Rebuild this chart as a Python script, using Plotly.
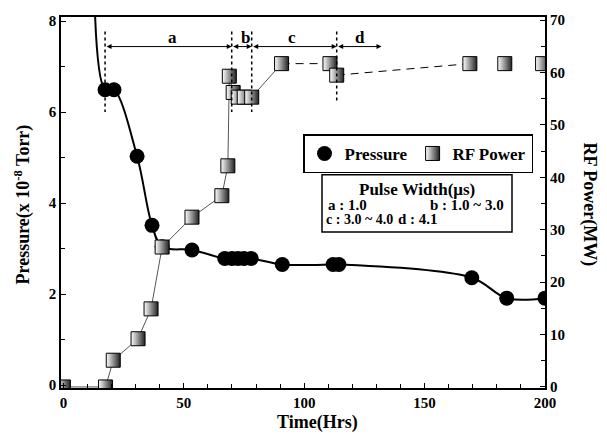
import plotly.graph_objects as go

# ---------------- data ----------------
# Pressure (x 1e-8 Torr) vs time (Hrs); first point only extends the curve above the frame
time_p = [12.9, 17.3, 21.0, 30.6, 36.8, 41.0, 53.4, 67.0, 70.0, 72.5, 75.0, 78.0,
          90.9, 112.0, 114.4, 169.6, 184.1, 200.0]
pressure = [8.5, 6.49, 6.49, 5.03, 3.51, 3.04, 2.97, 2.78, 2.78, 2.78, 2.78, 2.78,
            2.65, 2.65, 2.65, 2.36, 1.91, 1.91]

# RF power (MW) vs time (Hrs)
time_rf = [0, 17.5, 20.7, 31.0, 36.4, 41.0, 53.4, 65.8, 68.3, 68.9, 70.5, 72.6, 75.1,
           78.2, 90.6, 110.7, 113.5, 168.8, 183.3, 199.0]
rf_power = [0, 0, 5.1, 9.2, 14.9, 26.7, 32.4, 36.5, 42.2, 59.3, 56.2, 55.3, 55.3,
            55.3, 61.7, 61.7, 59.5, 61.7, 61.7, 61.7]

# pulse-width region boundaries (Hrs) and labels
bounds = [17.3, 69.9, 78.2, 113.5, 132.1]
region_labels = ["a", "b", "c", "d"]
pulse_lines = ["a : 1.0", "b : 1.0 ~ 3.0", "c : 3.0 ~ 4.0", "d : 4.1"]

FONT = "Liberation Serif"

fig = go.Figure()

# pressure line (spline)
fig.add_trace(go.Scatter(x=time_p, y=pressure, mode="lines",
                         line=dict(color="black", width=2, shape="spline", smoothing=1.0),
                         showlegend=False, hoverinfo="skip"))
# RF solid line
n_solid = 15
fig.add_trace(go.Scatter(x=time_rf[:n_solid], y=rf_power[:n_solid], mode="lines", yaxis="y2",
                         line=dict(color="#555555", width=1), showlegend=False, hoverinfo="skip"))
# RF dashed segments
for a, b in [(14, 16), (16, 18)]:
    fig.add_trace(go.Scatter(x=time_rf[a:b], y=rf_power[a:b], mode="lines", yaxis="y2",
                             line=dict(color="black", width=1, dash="8px,6px"),
                             showlegend=False, hoverinfo="skip"))

# pressure markers
fig.add_trace(go.Scatter(x=time_p[1:], y=pressure[1:], mode="markers", name="Pressure",
                         marker=dict(symbol="circle", size=15, color="black")))
# RF markers
fig.add_trace(go.Scatter(x=time_rf, y=rf_power, mode="markers", name="RF Power", yaxis="y2",
                         marker=dict(symbol="square", size=14, color="white",
                                     gradient=dict(type="horizontal", color="#222222"),
                                     line=dict(color="black", width=1))))

shapes = []
annotations = []
# vertical dotted boundary lines
for i, xb in enumerate(bounds[:4]):
    shapes.append(dict(type="line", xref="x", yref="y", x0=xb, x1=xb, y0=7.77,
                       y1=6.23 if i == 3 else 6.0,
                       line=dict(color="black", width=1.5, dash="dot")))
# double-headed arrows + labels
for i in range(4):
    x0, x1 = bounds[i], bounds[i + 1]
    annotations.append(dict(x=x1, y=7.44, ax=x0, ay=7.44, xref="x", yref="y",
                            axref="x", ayref="y", text="", showarrow=True,
                            arrowhead=2, startarrowhead=2, arrowside="end+start",
                            arrowsize=1, arrowwidth=1, arrowcolor="black",
                            standoff=0, startstandoff=0))
label_x = [45.2, 75.5, 94.9, 123.1]
for lx, lab in zip(label_x, region_labels):
    annotations.append(dict(x=lx, y=7.64, xref="x", yref="y", text=lab, showarrow=False,
                            xanchor="center", yanchor="middle",
                            font=dict(family=FONT, size=17, color="black", weight="bold")))


def px2paper_x(px):
    return (px - 61) / 484.0


def px2paper_y(py):
    return (388 - py) / 376.0


# pulse width box
shapes.append(dict(type="rect", xref="paper", yref="paper",
                   x0=px2paper_x(322), x1=px2paper_x(512),
                   y0=px2paper_y(230), y1=px2paper_y(172),
                   line=dict(color="black", width=1.5), fillcolor="white", layer="above"))
annotations.append(dict(x=px2paper_x(417), y=px2paper_y(187), xref="paper", yref="paper",
                        text="Pulse Width(\u03bcs)", showarrow=False,
                        xanchor="center", yanchor="middle",
                        font=dict(family=FONT, size=17, color="black", weight="bold")))
pf = dict(family=FONT, size=15, color="black", weight="bold")
pf_small = dict(family=FONT, size=14, color="black", weight="bold")
pos = [(326, 203), (428, 203), (324, 217), (396, 217)]
fonts = [pf, pf, pf_small, pf]
for (px, py), t, f in zip(pos, pulse_lines, fonts):
    annotations.append(dict(x=px2paper_x(px), y=px2paper_y(py), xref="paper", yref="paper",
                            text=t, showarrow=False, xanchor="left", yanchor="middle", font=f))

# axis titles
tf = dict(family=FONT, size=18, color="black", weight="bold")
annotations.append(dict(x=px2paper_x(317), y=px2paper_y(423), xref="paper", yref="paper",
                        text="Time(Hrs)", showarrow=False, xanchor="center", yanchor="middle",
                        font=tf))
annotations.append(dict(x=px2paper_x(23), y=px2paper_y(202), xref="paper", yref="paper",
                        text="Pressure(x 10<sup>-8</sup> Torr)", showarrow=False,
                        xanchor="center", yanchor="middle", textangle=-90, font=tf))
annotations.append(dict(x=px2paper_x(590), y=px2paper_y(202), xref="paper", yref="paper",
                        text="RF Power(MW)", showarrow=False, xanchor="center",
                        yanchor="middle", textangle=90, font=tf))

tickf = dict(family=FONT, size=15, color="black", weight="bold")
axis_common = dict(showgrid=False, zeroline=False, showline=True, linecolor="black",
                   ticks="inside", tickcolor="black", ticklen=5, tickwidth=1,
                   tickfont=tickf)

fig.update_layout(
    width=607, height=434,
    margin=dict(l=61, r=62, t=12, b=46),
    paper_bgcolor="white", plot_bgcolor="white",
    xaxis=dict(range=[-1, 200], tickmode="array", tickvals=[0, 50, 100, 150, 200],
               linewidth=2, mirror=True,
               minor=dict(ticks="inside", dtick=10, tick0=0, ticklen=4, tickcolor="black",
                          showgrid=False),
               **axis_common),
    yaxis=dict(range=[-0.065, 8.09], tickmode="array", tickvals=[0, 2, 4, 6, 8],
               linewidth=1.5,
               minor=dict(ticks="inside", dtick=1, tick0=0, ticklen=4, tickcolor="black",
                          showgrid=False),
               **axis_common),
    yaxis2=dict(range=[-0.2, 70.6], overlaying="y", side="right",
                tickmode="array", tickvals=[0, 10, 20, 30, 40, 50, 60, 70],
                linewidth=2,
                minor=dict(ticks="inside", dtick=5, tick0=0, ticklen=4, tickcolor="black",
                           showgrid=False),
                **axis_common),
    legend=dict(orientation="h", x=px2paper_x(303), y=px2paper_y(131),
                xanchor="left", yanchor="top", bgcolor="white",
                bordercolor="black", borderwidth=1.5,
                font=dict(family=FONT, size=17, color="black", weight="bold"),
                itemwidth=30, tracegroupgap=0),
    shapes=shapes,
    annotations=annotations,
    showlegend=True,
)

fig.write_html("out.html")
